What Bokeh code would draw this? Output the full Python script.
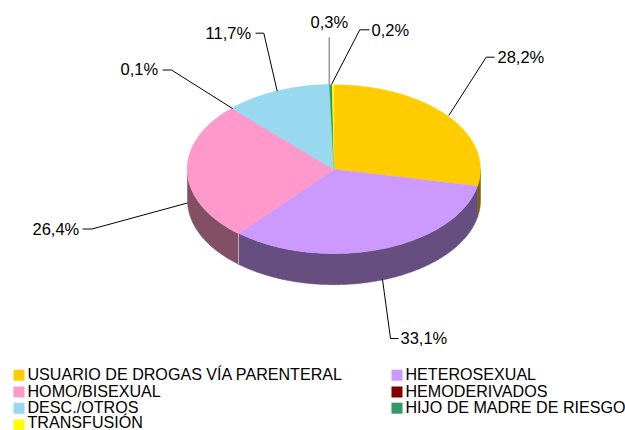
import numpy as np
from bokeh.plotting import figure
from bokeh.models import Range1d
from bokeh.core.properties import value
from bokeh.embed import file_html
from bokeh.resources import INLINE

categories = ["USUARIO DE DROGAS VÍA PARENTERAL", "HETEROSEXUAL", "HOMO/BISEXUAL", "HEMODERIVADOS",
              "DESC./OTROS", "HIJO DE MADRE DE RIESGO", "TRANSFUSIÓN"]
values = [28.2, 33.1, 26.4, 0.1, 11.7, 0.3, 0.2]
labels = ["28,2%", "33,1%", "26,4%", "0,1%", "11,7%", "0,3%", "0,2%"]
colors = ["#FFCC00", "#CC99FF", "#FF99CC", "#800000", "#99D9F0", "#339966", "#FFFF00"]
side_colors = ["#806600", "#664E80", "#824F63", "#400000", "#4D6C78", "#1A4D33", "#808000"]

CX, CY, RX, RY, DEPTH = 333.5, 168.7, 146.5, 84.5, 31
FONT = "Liberation Sans"

p = figure(width=625, height=430, output_backend="svg", toolbar_location=None,
           x_range=Range1d(0, 625), y_range=Range1d(430, 0), min_border=0,
           outline_line_color=None, background_fill_color="white")
p.axis.visible = False
p.grid.visible = False

edges = np.concatenate([[0], np.cumsum(values)]) / sum(values) * 2 * np.pi
def arc(a, b):
    t = np.linspace(a, b, max(int((b - a) * 60), 2))
    return CX + RX * np.sin(t), CY - RY * np.cos(t)

# side wall
for a, b, c in zip(edges[:-1], edges[1:], side_colors):
    lo, hi = max(a, np.pi / 2), min(b, 3 * np.pi / 2)
    if hi <= lo:
        continue
    x, y = arc(lo, hi)
    p.patch(np.r_[x, x[::-1]], np.r_[y, y[::-1] + DEPTH], fill_color=c, line_color=c, line_width=0.5)
# split between side walls
xe, ye = arc(edges[2], edges[2] + 1e-4)
p.line([xe[0], xe[0]], [ye[0], ye[0] + DEPTH], line_color="#C8A8C8", line_width=1)

# top: hairline slice first, neighbours over it, as in the reference where it does not show
draw_order = [3, 0, 1, 2, 4, 5, 6]
stroke = {2: 1.2, 4: 1.2}
for i in draw_order:
    x, y = arc(edges[i], edges[i + 1])
    p.patch(np.r_[CX, x], np.r_[CY, y], fill_color=colors[i], line_color=colors[i], line_width=stroke.get(i, 0.3))

# leaders and labels
leaders_x = [[448.3, 485.7, 494], [382, 390, 398], [187, 91.5, 82], [232, 171, 162], [276.7, 263.3, 255], [328.7, 328.7], [331, 359.3, 369]]
leaders_y = [[115, 56.7, 56.7], [279, 338, 338], [202.5, 228.5, 228.5], [108, 69.5, 69.5], [90.7, 32.7, 32.7], [84, 36.7], [84, 29.3, 29.3]]
leader_cols = ["black"] * 5 + ["#666666", "black"]
label_x = [497, 400, 32, 120, 205, 310, 371]
label_y = [56.3, 337.5, 228.3, 68.3, 32.3, 21.3, 29.3]
p.multi_line(leaders_x, leaders_y, line_color=leader_cols, line_width=1)
p.text(label_x, label_y, text=labels, text_font=value(FONT), text_font_size="16.5px",
       text_baseline="middle", text_color="black")

# legend
leg_x = [13, 391, 13, 391, 13, 391, 13]
leg_y = [374.7, 374.7, 391.5, 391.5, 407.7, 407.7, 424.5]
text_y = [373.2, 373.2, 390, 390, 406.2, 406.2, 421]
p.rect([x + 5.5 for x in leg_x], leg_y, width=11, height=11, fill_color=colors, line_color=None)
p.text([x + 14 for x in leg_x], text_y, text=categories, text_font=value(FONT), text_font_size="16.1px",
       text_baseline="middle", text_color="black")

open("out.html", "w").write(file_html(p, INLINE))
